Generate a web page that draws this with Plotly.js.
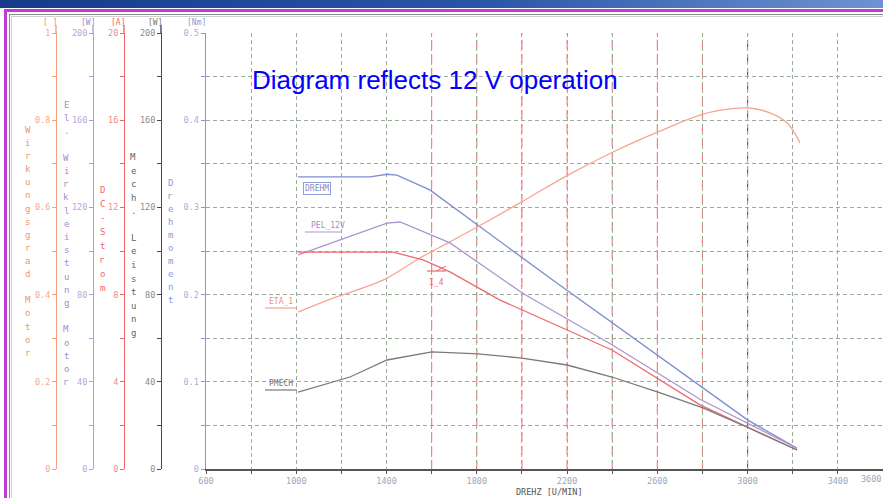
<!DOCTYPE html>
<html><head><meta charset="utf-8">
<script src="https://cdn.plot.ly/plotly-3.0.1.min.js"></script>
<style>
html,body{margin:0;padding:0;background:#fff;overflow:hidden}
#chart{position:absolute;left:0;top:0;width:883px;height:498px}
.deco{position:absolute;pointer-events:none}
</style></head><body>
<div id="chart"></div>
<div class="deco" style="left:0;top:0;width:883px;height:8px;background:linear-gradient(90deg,#163a8c,#2a56a8 55%,#6f93d2)"></div>
<div class="deco" style="left:4px;top:9px;width:879px;height:3px;background:#c23ad6"></div>
<div class="deco" style="left:4px;top:9px;width:3px;height:489px;background:#c23ad6"></div>
<div class="deco" style="left:9px;top:14px;width:874px;height:1px;background:#8a8a8a"></div>
<div class="deco" style="left:9px;top:14px;width:1px;height:484px;background:#8a8a8a"></div>
<div class="deco" style="left:11px;top:16px;width:872px;height:1px;background:#cfcfcf"></div>
<div class="deco" style="left:11px;top:16px;width:1px;height:482px;background:#cfcfcf"></div>
<script>
// ---- data ----
const rpmTorque = [1008, 1327, 1402, 1446, 1592, 1681, 1889, 2124, 3001, 3218];
const torqueNm  = [0.335, 0.335, 0.338, 0.337, 0.320, 0.303, 0.263, 0.219, 0.056, 0.024];

const rpmPel = [1008, 1402, 1460, 1681, 2005, 2399, 2789, 3006, 3219];
const pelW   = [98.2, 112.8, 113.3, 103.7, 80.5, 57.0, 32.0, 20.5, 9.5];

const rpmCurrent = [1008, 1429, 1562, 1681, 1903, 2399, 2789, 3006, 3219];
const currentA   = [9.95, 9.95, 9.59, 9.04, 7.75, 5.46, 2.94, 1.88, 0.87];

const rpmEta = [1008, 1163, 1384, 1548, 1681, 1858, 2036, 2204, 2404, 2603, 2802, 2922, 3006, 3099, 3175, 3232];
const eta    = [0.360, 0.392, 0.433, 0.484, 0.521, 0.571, 0.624, 0.674, 0.727, 0.773, 0.814, 0.826, 0.828, 0.817, 0.794, 0.748];

const rpmPmech = [1008, 1238, 1402, 1601, 1805, 2000, 2200, 2399, 2603, 2802, 3006, 3219];
const pmechW   = [35.3, 42.2, 50.0, 53.7, 52.8, 50.9, 47.7, 42.2, 35.3, 28.0, 18.8, 8.7];

const xTickVals = [600, 1000, 1400, 1800, 2200, 2600, 3000, 3400];
const redGridRpm = [1600, 1800, 2000, 2200, 2400, 2600, 2800];
const darkGridRpm = [3000];

const etaTicks = [0, 0.2, 0.4, 0.6, 0.8, 1];
const wattTicks = [0, 40, 80, 120, 160, 200];
const ampTicks = [0, 4, 8, 12, 16, 20];
const nmTicks = [0, 0.1, 0.2, 0.3, 0.4, 0.5];

const titleEta = 'Wirkungsgrad Motor';
const titlePel = 'El. Wirkleistung Motor';
const titleAmp = 'DC-Strom';
const titleMech = 'Mech. Leistung';
const titleNm = 'Drehmoment';

// ---- geometry helpers (pixel -> paper) ----
const W = 883, BOT = 469, TOP = 33;
const px = x => x / W;
const py = y => (BOT - y) / (BOT - TOP);

const MONO = 'DejaVu Sans Mono, monospace';
const GRID = '#9aab9a';
const C = {
  orange: '#f3a07e', purple: '#b29cd4', red: '#ef6468', black: '#4a4a4a', blue: '#8797d6'
};

function freeAxis(color, lblColor, range, tickvals, minorDtick, xpos) {
  return {
    overlaying: 'y', anchor: 'free', position: px(xpos), side: 'left',
    range: range, tickvals: tickvals, showgrid: false, zeroline: false,
    showline: true, linecolor: color, linewidth: 1.4,
    ticks: 'outside', ticklen: 4, tickcolor: color,
    tickfont: {family: MONO, size: 8.5, color: lblColor},
    minor: {dtick: minorDtick, tick0: 0, ticks: 'outside', ticklen: 4, tickcolor: color},
    fixedrange: true
  };
}

const traces = [
  {x: rpmTorque, y: torqueNm, yaxis: 'y', mode: 'lines', line: {color: '#7f8fd0', width: 1.4}},
  {x: rpmPel, y: pelW, yaxis: 'y3', mode: 'lines', line: {color: '#ad95d0', width: 1.3}},
  {x: rpmCurrent, y: currentA, yaxis: 'y4', mode: 'lines', line: {color: '#ee6a6e', width: 1.3}},
  {x: rpmEta, y: eta, yaxis: 'y2', mode: 'lines', line: {color: '#f6a58e', width: 1.3, shape: 'spline'}},
  {x: rpmPmech, y: pmechW, yaxis: 'y5', mode: 'lines', line: {color: '#7a7a7a', width: 1.3}}
];

const shapes = [];
redGridRpm.forEach(r => shapes.push({type: 'line', xref: 'x', yref: 'paper', x0: r, x1: r, y0: 0, y1: 1,
  line: {color: '#f07a7a', width: 1.1, dash: '9px,5px'}, layer: 'between'}));
darkGridRpm.forEach(r => shapes.push({type: 'line', xref: 'x', yref: 'paper', x0: r, x1: r, y0: 0, y1: 1,
  line: {color: '#9a3c3c', width: 1.1, dash: '9px,5px'}, layer: 'between'}));
// axis line extensions above the top
[[56, C.orange], [93, C.purple], [124, C.red], [161, C.black]].forEach(([x, c]) =>
  shapes.push({type: 'line', xref: 'paper', yref: 'paper', x0: px(x), x1: px(x), y0: py(25), y1: 1,
    line: {color: c, width: 1.4}}));
// label leaders
const leaders = [[305, 342, 232, '#ad95d0'], [265, 297, 308, '#f6a58e'], [265, 297, 390, '#7a7a7a'], [427, 446, 271, '#ee6a6e']];
leaders.forEach(([a, b, y, c]) => shapes.push({type: 'line', xref: 'paper', yref: 'paper',
  x0: px(a), x1: px(b), y0: py(y), y1: py(y), line: {color: c, width: 1.2}}));
shapes.push({type: 'line', xref: 'paper', yref: 'paper', x0: px(436), x1: px(446), y0: py(271), y1: py(266),
  line: {color: '#ee6a6e', width: 1}});

const ann = [];
function A(text, x, y, color, size, extra) {
  ann.push(Object.assign({text: text, xref: 'paper', yref: 'paper', x: px(x), y: py(y),
    showarrow: false, xanchor: 'center', yanchor: 'middle',
    font: {family: MONO, size: size || 9, color: color}}, extra || {}));
}
function stack(str, x, y0, step, color) {
  [...str].forEach((ch, i) => { if (ch !== ' ') A(ch, x, y0 + i * step, color, 9); });
}
stack(titleEta, 28, 130, 13.1, '#f0946e');
stack(titlePel, 66, 105, 13.2, '#a58cc8');
stack(titleAmp, 102, 190, 14, '#ee6a6a');
stack(titleMech, 133, 157, 13.5, '#666666');
stack(titleNm, 170, 183, 13, '#8a9ad8');

A('[ ]', 50, 22, '#f0946e', 8);
A('[W]', 88, 22, '#a58cc8', 8);
A('[A]', 118, 22, '#ee6a6a', 8);
A('[W]', 155, 22, '#777777', 8);
A('[Nm]', 196, 22, '#8a9ad8', 8);

A('DREHM', 317, 188, '#7f8fd0', 8, {bordercolor: '#8f9fd8', borderwidth: 1, borderpad: 1});
A('PEL_12V', 328, 225, '#a58cc8', 8);
A('ETA_1', 281, 301, '#f0946e', 8);
A('PMECH', 281, 383, '#777777', 8);
A('I_4', 436, 282, '#ee6a6a', 8);
A('DREHZ [U/MIN]', 549, 492, '#555555', 8.5);
A('Diagram reflects 12 V operation', 250, 80, '#0000ff', 26,
  {xanchor: 'left', font: {family: 'Liberation Sans, Arial, sans-serif', size: 26, color: '#0000ff'}});
ann.push({text: '3600', xref: 'x', yref: 'paper', x: 3600, y: py(479), xanchor: 'right', yanchor: 'middle',
  showarrow: false, font: {family: MONO, size: 8.5, color: '#9aa6bc'}});

const layout = {
  width: 883, height: 498,
  margin: {l: 0, r: 0, t: TOP, b: 498 - BOT, pad: 0},
  paper_bgcolor: 'rgba(0,0,0,0)', plot_bgcolor: 'rgba(0,0,0,0)',
  showlegend: false,
  xaxis: {
    domain: [px(206), 1], range: [600, 3600], tickvals: xTickVals,
    showline: true, linecolor: '#555555', linewidth: 1.5, zeroline: false,
    ticks: 'outside', ticklen: 3, tickcolor: '#555555',
    tickfont: {family: MONO, size: 8.5, color: '#9aa6bc'},
    showgrid: true, gridcolor: GRID, griddash: '4px,3px', gridwidth: 1,
    minor: {tick0: 600, dtick: 200, ticks: 'outside', ticklen: 3, tickcolor: '#555555',
      showgrid: true, gridcolor: GRID, griddash: '4px,3px', gridwidth: 1},
    fixedrange: true
  },
  yaxis: {
    range: [0, 0.5], tickvals: nmTicks, zeroline: false,
    showline: true, linecolor: C.blue, linewidth: 1.5,
    ticks: 'outside', ticklen: 4, tickcolor: C.blue,
    tickfont: {family: MONO, size: 8.5, color: '#9fb0e0'},
    showgrid: true, gridcolor: GRID, griddash: '4px,3px', gridwidth: 1,
    minor: {tick0: 0, dtick: 0.05, ticks: 'outside', ticklen: 4, tickcolor: C.blue,
      showgrid: true, gridcolor: GRID, griddash: '4px,3px', gridwidth: 1},
    fixedrange: true
  },
  yaxis2: freeAxis(C.orange, '#f4a98a', [0, 1], etaTicks, 0.1, 56),
  yaxis3: freeAxis(C.purple, '#b9a6d8', [0, 200], wattTicks, 20, 93),
  yaxis4: freeAxis(C.red, '#f08a8a', [0, 20], ampTicks, 2, 124),
  yaxis5: freeAxis(C.black, '#8a8a8a', [0, 200], wattTicks, 20, 161),
  shapes: shapes,
  annotations: ann
};

Plotly.newPlot('chart', traces, layout, {displayModeBar: false, staticPlot: true});
</script>
</body></html>
